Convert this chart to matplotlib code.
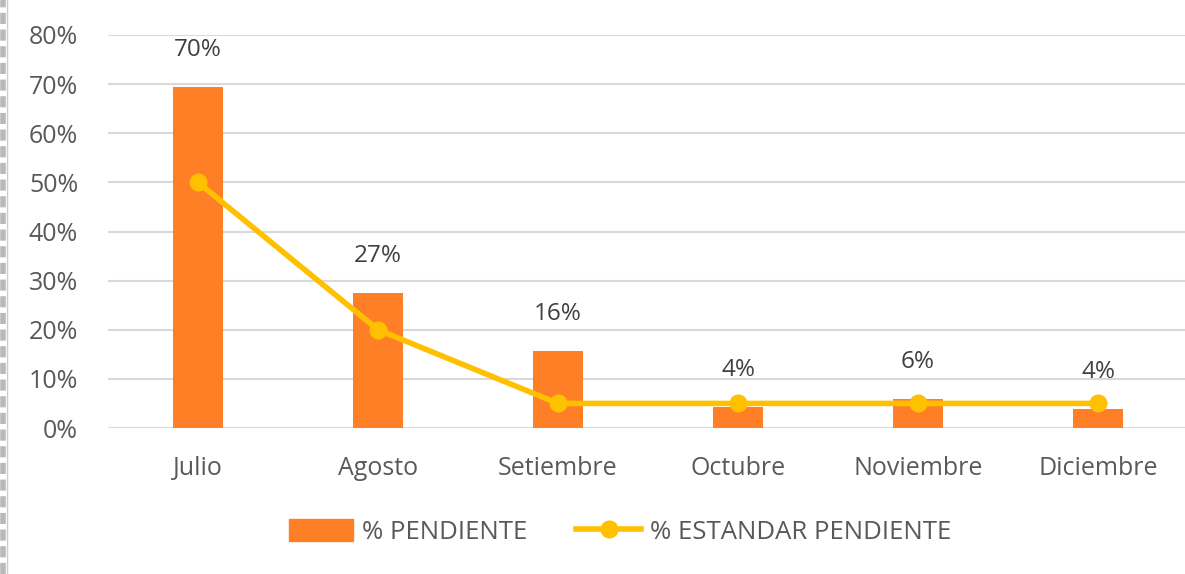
import matplotlib.pyplot as plt
from matplotlib.lines import Line2D
from matplotlib.patches import Patch

meses = ["Julio", "Agosto", "Setiembre", "Octubre", "Noviembre", "Diciembre"]
pendiente = [0.695, 0.275, 0.157, 0.043, 0.059, 0.039]
etiquetas = ["70%", "27%", "16%", "4%", "6%", "4%"]
estandar = [0.50, 0.20, 0.05, 0.05, 0.05, 0.05]
yticks = [0, 0.1, 0.2, 0.3, 0.4, 0.5, 0.6, 0.7, 0.8]

bar_color = "#FF7F27"
line_color = "#FFC000"
text_color = "#595959"

plt.rcParams['font.family'] = ['Open Sans', 'DejaVu Sans']

fig = plt.figure(figsize=(11.85, 5.74), dpi=100)
ax = fig.add_axes([108 / 1185, 1 - 428 / 574, 1080 / 1185, 393 / 574])

x = list(range(len(meses)))
ax.bar(x, pendiente, width=0.28, color=bar_color, zorder=2)
ax.plot(x, estandar, color=line_color, linewidth=4, marker='o', markersize=12, zorder=3)

for i, v in enumerate(pendiente):
    ax.text(i, v + 0.05, etiquetas[i], ha='center', va='bottom', fontsize=17.5, color="#404040")

ax.set_xlim(-0.5, 5.5)
ax.set_ylim(0, 0.8)
ax.set_yticks(yticks)
ax.set_yticklabels(["%d%%" % round(t * 100) for t in yticks])
ax.set_xticks(x)
ax.set_xticklabels(meses)
ax.tick_params(axis='both', length=0, labelsize=18, colors=text_color)
ax.tick_params(axis='y', pad=21.5)
ax.tick_params(axis='x', pad=20)
ax.yaxis.grid(True, color="#D9D9D9", linewidth=1.5, zorder=0)
ax.set_axisbelow(True)
for s in ax.spines.values():
    s.set_visible(False)

handles = [Patch(color=bar_color),
           Line2D([0], [0], color=line_color, linewidth=4, marker='o', markersize=12)]
fig.legend(handles, ["% PENDIENTE", "% ESTANDAR PENDIENTE"], loc='center',
           bbox_to_anchor=(620 / 1185, 1 - 532 / 574), ncol=2, frameon=False,
           fontsize=18.5, labelcolor=text_color, handlelength=2.5, handleheight=0.9,
           columnspacing=1.9, handletextpad=0.35)

# left border strip
fig.add_artist(Line2D([3 / 1185, 3 / 1185], [0, 1], color="#BDB8B8", linewidth=4,
                      linestyle=(0, (2, 1))))
fig.add_artist(Line2D([6.5 / 1185, 6.5 / 1185], [0, 1], color="#D0CCCC", linewidth=1))

fig.savefig("out.png", dpi=100)
